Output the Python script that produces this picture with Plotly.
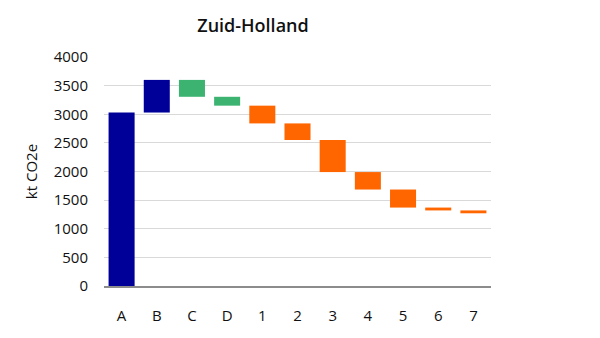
import plotly.graph_objects as go

categories = ["A", "B", "C", "D", "1", "2", "3", "4", "5", "6", "7"]
deltas = [3030, 570, -295, -155, -310, -290, -560, -305, -315, -50, -50]
colors = ["#000099", "#000099", "#3CB371", "#3CB371",
          "#FF6600", "#FF6600", "#FF6600", "#FF6600", "#FF6600", "#FF6600", "#FF6600"]
y_ticks = [0, 500, 1000, 1500, 2000, 2500, 3000, 3500, 4000]

# floating bars: base and height from running total
bases, heights = [], []
running = 0
for d in deltas:
    new = running + d
    bases.append(min(running, new))
    heights.append(abs(d))
    running = new

fig = go.Figure(go.Bar(
    x=categories, y=heights, base=bases,
    marker=dict(color=colors, line=dict(width=0)),
    width=0.74,
))

font_family = "Open Sans, Noto Sans, sans-serif"
fig.update_layout(
    width=600, height=338,
    margin=dict(l=104, r=109, t=57, b=52),
    paper_bgcolor="white", plot_bgcolor="white",
    showlegend=False,
    font=dict(family=font_family, size=15, color="#111111"),
    title=dict(text="Zuid-Holland", x=253/600, xref="container", xanchor="center",
               y=1-26/338, yref="container", yanchor="middle",
               font=dict(size=18, color="#111111", family=font_family, weight=600)),
    xaxis=dict(showgrid=False, showline=True, linecolor="#8c8c8c", linewidth=2,
               ticks="", ticklabelstandoff=15, tickfont=dict(size=15)),
    yaxis=dict(range=[0, 4000], tickvals=y_ticks, showgrid=True, gridcolor="#d9d9d9",
               gridwidth=1, zeroline=False, showline=False, ticks="",
               ticklabelstandoff=15, tickfont=dict(size=15),
               title=dict(text="kt CO2e", standoff=12, font=dict(size=15))),
    bargap=0.26,
)

fig.write_html("out.html")
